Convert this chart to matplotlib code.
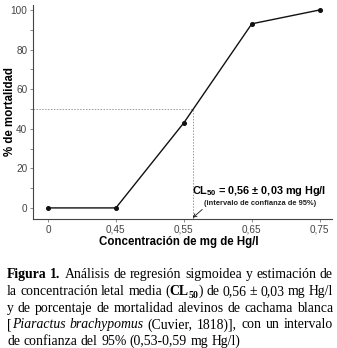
import numpy as np
import matplotlib
matplotlib.use("Agg")
import matplotlib.pyplot as plt

plt.rcParams['font.family'] = ['Liberation Sans', 'DejaVu Sans']
plt.rcParams['mathtext.fontset'] = 'custom'
plt.rcParams['mathtext.rm'] = 'Liberation Sans'
plt.rcParams['mathtext.bf'] = 'Liberation Sans:bold'

dose_labels = ['0', '0,45', '0,55', '0,65', '0,75']
mortality = [0, 0, 43, 93, 100]
y_ticks = [0, 20, 40, 60, 80, 100]
y_minor = [10, 30, 50, 70, 90]
cl50_level = 50

W, H = 337, 348
fig = plt.figure(figsize=(W/100, H/100), dpi=100)
ax = fig.add_axes([33/W, 1-219/H, (332-33)/W, (219-5)/H])

pos = np.arange(len(dose_labels))
ax.plot(pos, mortality, color='#111111', lw=1.0, marker='o', ms=2.6, zorder=3)

x50 = float(np.interp(cl50_level, mortality[1:], pos[1:]))
ax.plot([-0.22, x50], [cl50_level, cl50_level], ls=(0, (1.5, 1.5)), color='#999999', lw=0.7, zorder=1)
ax.plot([x50, x50], [-5.6, cl50_level], ls=(0, (1.5, 1.5)), color='#999999', lw=0.7, zorder=1)

ax.set_xlim(-0.22, 4.18)
ax.set_ylim(-5.6, 102.5)
ax.set_xticks(pos)
ax.set_xticklabels(dose_labels)
ax.set_yticks(y_ticks)
ax.set_yticks(y_minor, minor=True)
for s in ['top', 'right']:
    ax.spines[s].set_visible(False)
for s in ['left', 'bottom']:
    ax.spines[s].set_color('#444444')
    ax.spines[s].set_linewidth(0.8)
ax.tick_params(axis='both', which='both', colors='#777777', labelcolor='#444444', labelsize=7.2, length=2.5, width=0.6, pad=1.5)
ax.set_xlabel('Concentración de mg de Hg/l', fontsize=8.3, fontweight='bold')
ax.set_ylabel('% de mortalidad', fontsize=8.3, fontweight='bold')
ax.yaxis.set_label_coords((10-33)/299, 0.5)
ax.xaxis.set_label_coords((179-33)/299, -(242-219)/214)
ax.xaxis.label.set_va('center')
ax.yaxis.label.set_va('center')

ax.text(2.12, 8.6, r'CL$_{\mathbf{50}}$ = 0,56 ± 0,03 mg Hg/l', fontsize=7.8, fontweight='bold', va='center', ha='left')
ax.text(3.12, 2.3, '(intervalo de confianza de 95%)', fontsize=5.4, fontweight='bold', va='center', ha='center', color='#222222')
ax.annotate('', xy=(x50 - 0.01, -5.0), xytext=(2.27, -0.8),
            arrowprops=dict(arrowstyle='->', lw=0.6, color='#111111', shrinkA=0, shrinkB=0, mutation_scale=6))

# Caption with justified text
FAM = 'Liberation Serif'
R = dict(fontweight='normal', fontstyle='normal')
B = dict(fontweight='bold', fontstyle='normal')
I = dict(fontweight='normal', fontstyle='italic')
lines = [
    [[('Figura', B)], [('1.', B)], [('Análisis', R)], [('de', R)], [('regresión', R)], [('sigmoidea', R)], [('y', R)], [('estimación', R)], [('de', R)]],
    [[('la', R)], [('concentración', R)], [('letal', R)], [('media', R)], [('(', R), ('CL', B), ('50', dict(B, sub=True)), (')', R)], [('de', R)], [('0,56', R)], [('±', R)], [('0,03', R)], [('mg', R)], [('Hg/l', R)]],
    [[('y', R)], [('de', R)], [('porcentaje', R)], [('de', R)], [('mortalidad', R)], [('alevinos', R)], [('de', R)], [('cachama', R)], [('blanca', R)]],
    [[('[', R), ('Piaractus', I)], [('brachypomus', I)], [('(Cuvier,', R)], [('1818)],', R)], [('con', R)], [('un', R)], [('intervalo', R)]],
    [[('de', R)], [('confianza', R)], [('del', R)], [('95%', R)], [('(0,53-0,59', R)], [('mg', R)], [('Hg/l)', R)]],
]
x_left, x_right = 7, 333
base0 = 278
lh = 16.8
fig.canvas.draw()
renderer = fig.canvas.get_renderer()

def make(seg, x, y, fs):
    txt, st = seg
    st = dict(st)
    sub = st.pop('sub', False)
    size = fs * (0.72 if sub else 1.0)
    yy = y + (3 if sub else 0)
    t = fig.text(x/W, 1-yy/H, txt, fontsize=size, family=FAM, va='baseline', ha='left', **st)
    w = t.get_window_extent(renderer).width
    return t, w

def word_widths(words, fs):
    out = []
    for w in words:
        tot = 0
        for seg in w:
            t, ww = make(seg, 0, 0, fs)
            tot += ww
            t.remove()
        out.append(tot)
    return out

fs0 = 10.8
min_gap = 3.3
fs = fs0
for words in lines[:-1]:
    nat = sum(word_widths(words, fs0))
    avail = (x_right - x_left) - (len(words) - 1) * min_gap
    fs = min(fs, fs0 * avail / nat)

space_nat = fs * 100/72 * 0.25
for li, words in enumerate(lines):
    y = base0 + li*lh
    widths = word_widths(words, fs)
    if li == len(lines) - 1:
        gap = space_nat
    else:
        gap = (x_right - x_left - sum(widths)) / (len(words) - 1)
    x = x_left
    for w, wd in zip(words, widths):
        xx = x
        for seg in w:
            t, ww = make(seg, xx, y, fs)
            xx += ww
        x += wd + gap

fig.savefig('out.png', dpi=100)
